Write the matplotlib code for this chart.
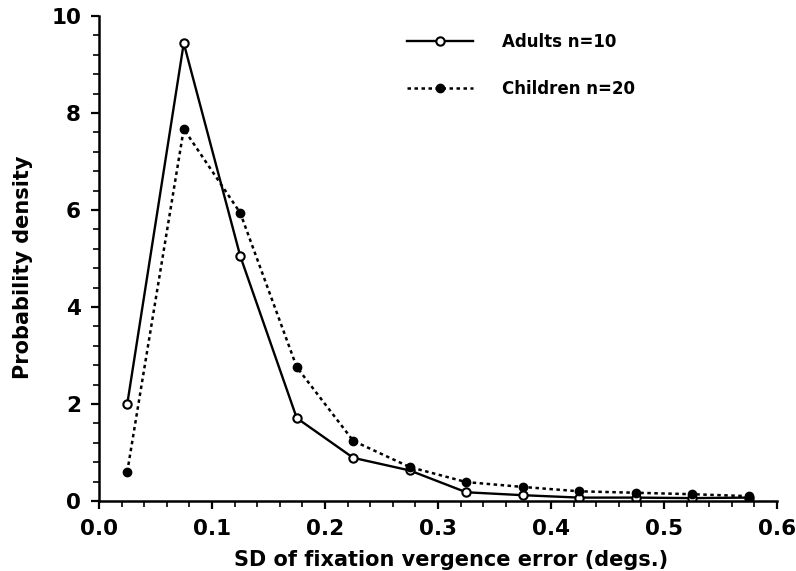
import numpy as np
import matplotlib
matplotlib.use("Agg")
import matplotlib.pyplot as plt
from matplotlib.ticker import MultipleLocator

plt.rcParams['font.family'] = ['DejaVu Sans']
plt.rcParams['font.weight'] = 'bold'

# bin centres (degs.)
sd_bins = [0.025, 0.075, 0.125, 0.175, 0.225, 0.275, 0.325, 0.375, 0.425, 0.475, 0.525, 0.575]
adults = [2.0, 9.44, 5.05, 1.71, 0.89, 0.63, 0.18, 0.12, 0.07, 0.07, 0.06, 0.07]
children = [0.6, 7.67, 5.94, 2.76, 1.24, 0.70, 0.39, 0.29, 0.20, 0.17, 0.14, 0.10]

fig = plt.figure(figsize=(7.96, 5.71), dpi=100)
ax = fig.add_axes([99/796, 1 - 501/571, 678/796, 485/571])

ax.plot(sd_bins, adults, '-', color='black', lw=1.7, marker='o', ms=6,
        mfc='white', mec='black', mew=1.5, label='Adults n=10')
ax.plot(sd_bins, children, linestyle=(0, (1.4, 1.4)), color='black', lw=1.8,
        marker='o', ms=6, mfc='black', mec='black', label='Children n=20')

ax.set_xlim(0, 0.6)
ax.set_ylim(0, 10)
ax.xaxis.set_minor_locator(MultipleLocator(0.02))
ax.yaxis.set_major_locator(MultipleLocator(2))
ax.yaxis.set_minor_locator(MultipleLocator(0.4))
ax.set_xticks(np.arange(0, 0.61, 0.1))
ax.set_xticklabels(['0.0', '0.1', '0.2', '0.3', '0.4', '0.5', '0.6'])

for s in ['top', 'right']:
    ax.spines[s].set_visible(False)
for s in ['left', 'bottom']:
    ax.spines[s].set_linewidth(1.8)

ax.tick_params(which='major', direction='out', length=6, width=1.6, labelsize=15.5, pad=7)
ax.tick_params(which='minor', direction='out', length=4, width=1.2)

ax.set_xlabel('SD of fixation vergence error (degs.)', fontsize=15, fontweight='bold')
ax.set_ylabel('Probability density', fontsize=15, fontweight='bold')
ax.xaxis.set_label_coords(0.52, -0.1)
ax.yaxis.set_label_coords(-0.098, 0.482)

leg = ax.legend(loc='upper left', bbox_to_anchor=(0.455, 0.965), frameon=False,
                borderpad=0, borderaxespad=0,
                handlelength=3.95, handletextpad=1.75, labelspacing=1.75, fontsize=12)
for t in leg.get_texts():
    t.set_fontweight('bold')

fig.savefig('out.png', dpi=100)
